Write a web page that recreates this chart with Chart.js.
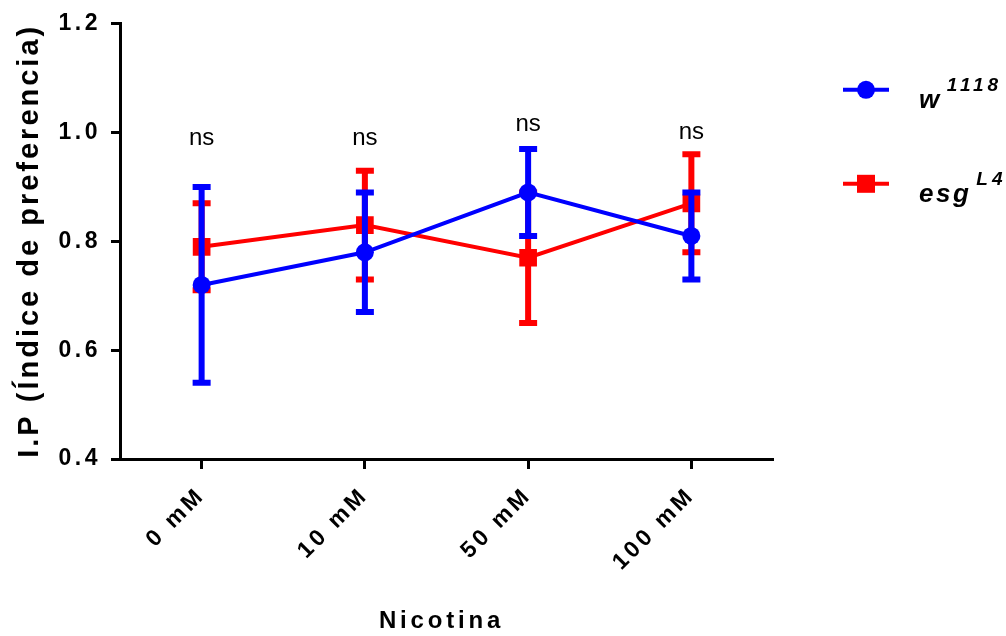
<!DOCTYPE html>
<html><head><meta charset="utf-8">
<script src="https://cdn.jsdelivr.net/npm/chart.js@4/dist/chart.umd.min.js"></script>
<style>html,body{margin:0;padding:0;background:#fff;} canvas{display:block;}</style>
</head><body>
<canvas id="c" width="1006" height="636"></canvas>
<script>
// ---- data ----
const categories = ['0 mM', '10 mM', '50 mM', '100 mM'];
const seriesNames = ['w', 'esg'];
const seriesSup = ['1118', 'L4'];
const wMean  = [0.72, 0.78, 0.89, 0.81];
const wUpper = [0.90, 0.89, 0.97, 0.89];
const wLower = [0.54, 0.67, 0.81, 0.73];
const esgMean  = [0.79, 0.83, 0.77, 0.87];
const esgUpper = [0.87, 0.93, 0.89, 0.96];
const esgLower = [0.71, 0.73, 0.65, 0.78];
const nsLabels = ['ns', 'ns', 'ns', 'ns'];
const nsLevels = [0.99, 0.99, 1.015, 1.0];
const yTicks = [0.4, 0.6, 0.8, 1.0, 1.2];
const yTitle = 'I.P (Índice de preferencia)';
const xTitle = 'Nicotina';

const FAMILY = '"Liberation Sans", Arial, Helvetica, sans-serif';
Chart.defaults.font.family = FAMILY;
Chart.defaults.color = '#000';

const errorBars = [
  { upper: wUpper, lower: wLower },
  { upper: esgUpper, lower: esgLower }
];

const errorPlugin = {
  id: 'errorBars',
  afterDatasetDraw(chart, args) {
    const eb = errorBars[args.index];
    if (!eb) return;
    const ds = chart.data.datasets[args.index];
    const xs = chart.scales.x, ys = chart.scales.y, ctx = chart.ctx;
    ctx.save();
    ctx.strokeStyle = ds.borderColor;
    ctx.lineWidth = 6;
    ctx.lineCap = 'butt';
    eb.upper.forEach((u, k) => {
      const px = xs.getPixelForValue(k);
      const pu = ys.getPixelForValue(u);
      const pl = ys.getPixelForValue(eb.lower[k]);
      ctx.beginPath();
      ctx.moveTo(px, pu); ctx.lineTo(px, pl);
      ctx.moveTo(px - 9, pu); ctx.lineTo(px + 9, pu);
      ctx.moveTo(px - 9, pl); ctx.lineTo(px + 9, pl);
      ctx.stroke();
    });
    ctx.restore();
  }
};

// per-scale title letter spacing / nudge
function patchTitle(scale, spacing, dx) {
  if (scale._titlePatched) return;
  scale._titlePatched = true;
  const orig = scale.drawTitle;
  scale.drawTitle = function () {
    const ctx = this.ctx;
    ctx.save();
    ctx.letterSpacing = spacing;
    ctx.translate(dx, 0);
    orig.call(this);
    ctx.restore();
  };
}

const textPlugin = {
  id: 'texts',
  beforeDraw(chart) { chart.ctx.letterSpacing = '3.5px'; },
  beforeDatasetsDraw(chart) { chart.ctx.letterSpacing = '0px'; },
  afterDraw(chart) {
    const ctx = chart.ctx, xs = chart.scales.x, ys = chart.scales.y, area = chart.chartArea;
    ctx.save();
    ctx.letterSpacing = '0px';
    ctx.fillStyle = '#000';
    ctx.font = '24px ' + FAMILY;
    ctx.textAlign = 'center';
    ctx.textBaseline = 'middle';
    nsLabels.forEach((t, k) => ctx.fillText(t, xs.getPixelForValue(k), ys.getPixelForValue(nsLevels[k])));

    // legend
    const lx = area.right + 70, lw = 46;
    const rows = [area.top + 66, area.top + 160];
    chart.data.datasets.forEach((ds, i) => {
      const yy = rows[i];
      ctx.strokeStyle = ds.borderColor;
      ctx.lineWidth = 4;
      ctx.beginPath(); ctx.moveTo(lx, yy); ctx.lineTo(lx + lw, yy); ctx.stroke();
      ctx.fillStyle = ds.backgroundColor;
      if (ds.pointStyle === 'rect') {
        ctx.fillRect(lx + lw / 2 - 9, yy - 9, 18, 18);
      } else {
        ctx.beginPath(); ctx.arc(lx + lw / 2, yy, 9, 0, Math.PI * 2); ctx.fill();
      }
      ctx.fillStyle = '#000';
      ctx.textAlign = 'left';
      ctx.textBaseline = 'alphabetic';
      ctx.font = 'italic bold 26px ' + FAMILY;
      ctx.letterSpacing = '2.5px';
      const tx = lx + 76;
      ctx.fillText(seriesNames[i], tx, yy + 18);
      const w = ctx.measureText(seriesNames[i]).width;
      ctx.font = 'italic bold 19px ' + FAMILY;
      ctx.letterSpacing = '4px';
      ctx.fillText(seriesSup[i], tx + w + 5, yy + 1);
    });
    ctx.restore();
  }
};

new Chart(document.getElementById('c'), {
  type: 'line',
  data: {
    labels: categories,
    datasets: [
      { label: seriesNames[0], data: wMean, borderColor: '#0000ff', backgroundColor: '#0000ff',
        borderWidth: 4, pointStyle: 'circle', pointRadius: 9, pointBorderWidth: 0, tension: 0 },
      { label: seriesNames[1], data: esgMean, borderColor: '#ff0000', backgroundColor: '#ff0000',
        borderWidth: 4, pointStyle: 'rect', pointRadius: 12.5, pointBorderWidth: 0, tension: 0 }
    ]
  },
  options: {
    responsive: false,
    animation: false,
    devicePixelRatio: 1,
    layout: { padding: { top: 22, right: 233, left: 0, bottom: 0 } },
    plugins: { legend: { display: false }, tooltip: { enabled: false } },
    scales: {
      x: {
        type: 'category',
        offset: true,
        ticks: { font: { size: 23, weight: 'bold' }, color: '#000', minRotation: 45, maxRotation: 45, padding: 13, autoSkip: false },
        grid: { offset: false, drawOnChartArea: false, drawTicks: true, tickLength: 10, tickWidth: 3, tickColor: '#000' },
        border: { display: true, color: '#000', width: 3 },
        title: { display: true, text: xTitle, font: { size: 24, weight: 'bold' }, color: '#000', padding: { top: 0, bottom: 0 } },
        afterFit(scale) { scale.height = 177; patchTitle(scale, '3.8px', -5); }
      },
      y: {
        min: 0.4, max: 1.2,
        afterBuildTicks(scale) { scale.ticks = yTicks.map(v => ({ value: v })); },
        ticks: { callback: v => Number(v).toFixed(1), font: { size: 23, weight: 'bold' }, color: '#000', padding: 10 },
        grid: { drawOnChartArea: false, drawTicks: true, tickLength: 9, tickWidth: 3, tickColor: '#000' },
        border: { display: true, color: '#000', width: 3 },
        title: { display: true, text: yTitle, align: 'end', font: { size: 29, weight: 'bold' }, color: '#000', padding: { top: 13, bottom: 0 } },
        afterFit(scale) { scale.width = 120; patchTitle(scale, '3px', 0); }
      }
    }
  },
  plugins: [errorPlugin, textPlugin]
});
</script>
</body></html>
